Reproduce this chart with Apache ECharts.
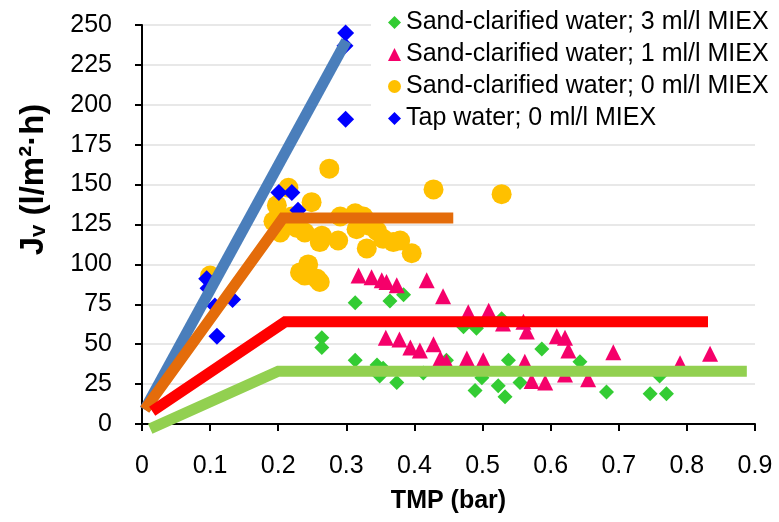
<!DOCTYPE html>
<html>
<head>
<meta charset="utf-8">
<script src="https://cdn.jsdelivr.net/npm/echarts@6/dist/echarts.min.js"></script>
<style>html,body{margin:0;padding:0;background:#fff}#c{width:779px;height:522px}</style>
</head>
<body>
<div id="c"></div>
<script>
// TMP (bar), Jv (l/m2.h)
const sand3 = [[0.264,54],[0.264,48],[0.313,76],[0.364,77],[0.384,81],[0.313,40],[0.345,37],[0.349,30],[0.374,26],[0.354,35],[0.413,32],[0.447,40],[0.472,61],[0.491,60],[0.528,66],[0.489,21],[0.499,29],[0.523,24],[0.533,17],[0.538,40],[0.555,26],[0.587,47],[0.643,39],[0.682,20],[0.746,19],[0.770,19],[0.760,30]];
const sand1 = [[0.318,93],[0.337,92],[0.352,90],[0.359,89],[0.374,87],[0.418,90],[0.442,80],[0.479,70],[0.509,71],[0.358,54],[0.378,53],[0.394,48],[0.408,46],[0.428,50],[0.438,41],[0.447,39],[0.477,41],[0.501,40],[0.560,64],[0.565,58],[0.609,55],[0.621,54],[0.626,46],[0.692,45],[0.834,44],[0.562,39],[0.572,27],[0.592,26],[0.621,31],[0.655,28],[0.790,38],[0.530,63]];
const sand0 = [[0.10,93],[0.193,127],[0.198,137],[0.203,120],[0.215,148],[0.227,123],[0.239,120],[0.249,139],[0.264,118],[0.261,114],[0.275,160],[0.288,115],[0.291,130],[0.313,132],[0.315,122],[0.325,130],[0.335,124],[0.330,110],[0.345,121],[0.354,116],[0.369,114],[0.379,115],[0.396,107],[0.428,147],[0.528,144],[0.244,100],[0.232,95],[0.239,93],[0.257,91],[0.261,89],[0.220,130],[0.210,125]];
const tap0 = [[0.299,245],[0.298,237],[0.299,191],[0.201,145],[0.220,145],[0.229,134],[0.095,91],[0.097,85],[0.107,74],[0.133,78],[0.110,55]];
const fitTap = [[0.004,9],[0.300,240]];
const fitSand0 = [[0.004,9],[0.207,129],[0.457,129]];
const fitSand1 = [[0.015,8],[0.21,64],[0.831,64]];
const fitSand3 = [[0.012,-3],[0.20,33],[0.888,33]];
const names = ['Sand-clarified water; 3 ml/l MIEX','Sand-clarified water; 1 ml/l MIEX','Sand-clarified water; 0 ml/l MIEX','Tap water; 0 ml/l MIEX'];
const xTicks = {min:0, max:0.9, interval:0.1};
const yTicks = {min:0, max:250, interval:25};

const FONT = '"Liberation Sans", Arial, sans-serif';
const chart = echarts.init(document.getElementById('c'), null, {renderer:'canvas'});
function lineSeries(data, color, w){
  return {type:'line', data:data, symbol:'none', clip:false, lineStyle:{color:color, width:w, cap:'butt', join:'miter'}, z:5, silent:true, animation:false};
}
chart.setOption({
  animation:false,
  grid:{left:142, right:24, top:25, bottom:98, containLabel:false},
  legend:{
    orient:'vertical', left:371, top:8, itemWidth:13, itemHeight:13, itemGap:7,
    backgroundColor:'#fff', padding:[2,4,4,17],
    textStyle:{fontFamily:FONT, fontSize:25, color:'#000'},
    data:[{name:names[0],icon:'diamond'},{name:names[1],icon:'triangle'},{name:names[2],icon:'circle'},{name:names[3],icon:'diamond'}],
    z:10
  },
  xAxis:{
    type:'value', min:xTicks.min, max:xTicks.max, interval:xTicks.interval,
    name:'TMP (bar)', nameLocation:'middle', nameGap:65,
    nameTextStyle:{fontFamily:FONT, fontSize:25, fontWeight:'bold', color:'#000'},
    axisLine:{show:true, onZero:false, lineStyle:{color:'#000', width:2}},
    axisTick:{show:true, inside:false, length:7, lineStyle:{color:'#000', width:2}},
    axisLabel:{fontFamily:FONT, fontSize:25, color:'#000', margin:30, formatter:v=>String(+v.toFixed(1))},
    splitLine:{show:false}
  },
  yAxis:{
    type:'value', min:yTicks.min, max:yTicks.max, interval:yTicks.interval,
    name:'{a|J}{s|v}{a| (l/m²·h)}', nameLocation:'middle', nameGap:92, nameRotate:90,
    nameTextStyle:{padding:[0,0,0,90], rich:{
      a:{fontFamily:FONT, fontSize:33, fontWeight:'bold', color:'#000'},
      s:{fontFamily:FONT, fontSize:22, fontWeight:'bold', color:'#000', verticalAlign:'bottom', padding:[10,0,0,0]}
    }},
    axisLine:{show:true, lineStyle:{color:'#000', width:2}},
    axisTick:{show:true, inside:false, length:7, lineStyle:{color:'#000', width:2}},
    axisLabel:{fontFamily:FONT, fontSize:25, color:'#000', margin:30},
    splitLine:{show:true, lineStyle:{color:'#e8e8e8', width:2}}
  },
  series:[
    {name:names[0], type:'scatter', data:sand3, symbol:'diamond', symbolSize:15, itemStyle:{color:'#33cc33', opacity:1}, z:2},
    {name:names[1], type:'scatter', data:sand1, symbol:'triangle', symbolSize:16, itemStyle:{color:'#f5006a', opacity:1}, z:2},
    {name:names[2], type:'scatter', data:sand0, symbol:'circle', symbolSize:20, itemStyle:{color:'#ffc000', opacity:1}, z:2},
    {name:names[3], type:'scatter', data:tap0, symbol:'diamond', symbolSize:17, itemStyle:{color:'#0000ff', opacity:1}, z:3},
    lineSeries(fitTap, '#4a7ebb', 11),
    lineSeries(fitSand0, '#e46c0a', 11),
    lineSeries(fitSand1, '#ff0000', 11),
    lineSeries(fitSand3, '#92d050', 11)
  ]
});
</script>
</body>
</html>
